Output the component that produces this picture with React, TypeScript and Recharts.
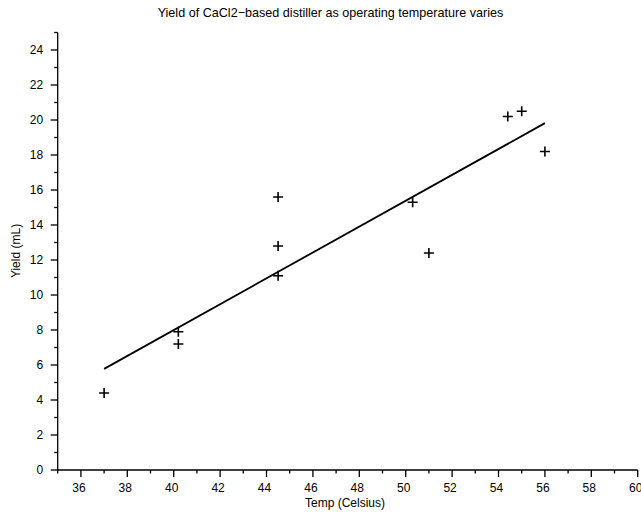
import React from 'react';
import { ScatterChart, Scatter, XAxis, YAxis } from 'recharts';

const temps = [37, 40.2, 40.2, 44.5, 44.5, 44.5, 50.3, 51, 54.4, 55, 56];
const yields = [4.4, 7.9, 7.2, 15.6, 12.8, 11.1, 15.3, 12.4, 20.2, 20.5, 18.2];
const fitTemps = [37, 56];
const fitYields = [5.78, 19.82];
const xTicks = [35, 36, 37, 38, 39, 40, 41, 42, 43, 44, 45, 46, 47, 48, 49, 50, 51, 52, 53, 54, 55, 56, 57, 58, 59, 60];
const yTicks = [0, 1, 2, 3, 4, 5, 6, 7, 8, 9, 10, 11, 12, 13, 14, 15, 16, 17, 18, 19, 20, 21, 22, 23, 24, 25];

const title = 'Yield of CaCl2\u2212based distiller as operating temperature varies';
const xTitle = 'Temp (Celsius)';
const yTitle = 'Yield (mL)';

const points = temps.map((t, i) => ({ x: t, y: yields[i] }));
const fitLine = fitTemps.map((t, i) => ({ x: t, y: fitYields[i] }));

const FONT = '"Liberation Sans", Arial, Helvetica, sans-serif';

const XTick = (props: any) => {
  const { x, y, payload } = props;
  const major = payload.value % 2 === 0;
  return (
    <g>
      <line x1={x} y1={y} x2={x} y2={y + (major ? 7 : 3.5)} stroke="#000" strokeWidth={1.3} />
      {major && (
        <text x={x - 2} y={y + 21.5} textAnchor="middle" fontSize={12} fontFamily={FONT} fill="#000">
          {payload.value}
        </text>
      )}
    </g>
  );
};

const YTick = (props: any) => {
  const { x, y, payload } = props;
  const major = payload.value % 2 === 0;
  return (
    <g>
      <line x1={x - (major ? 7 : 3.5)} y1={y} x2={x} y2={y} stroke="#000" strokeWidth={1.3} />
      {major && (
        <text x={x - 14.5} y={y} dy={4.3} textAnchor="end" fontSize={12} fontFamily={FONT} fill="#000">
          {payload.value}
        </text>
      )}
    </g>
  );
};

const Plus = (props: any) => {
  const { cx, cy } = props;
  if (cx == null || cy == null) return null;
  return (
    <g>
      <line x1={cx - 5} y1={cy} x2={cx + 5} y2={cy} stroke="#000" strokeWidth={1.6} />
      <line x1={cx} y1={cy - 5} x2={cx} y2={cy + 5} stroke="#000" strokeWidth={1.6} />
    </g>
  );
};

const NoShape = () => null;

export default function App() {
  return (
    <div style={{ position: 'absolute', left: 0, top: 0, width: 641, height: 514, background: '#fff' }}>
      <ScatterChart
        width={641}
        height={514}
        margin={{ top: 32.5, right: 3.3, bottom: 14, left: 7.7 }}
      >
        <XAxis
          type="number"
          dataKey="x"
          domain={[35, 60]}
          ticks={xTicks}
          interval={0}
          allowDataOverflow
          height={30}
          tickSize={0}
          tickMargin={0}
          tickLine={false}
          axisLine={{ stroke: '#000', strokeWidth: 1.3 }}
          tick={XTick}
        />
        <YAxis
          type="number"
          dataKey="y"
          domain={[0, 25]}
          ticks={yTicks}
          interval={0}
          allowDataOverflow
          width={50}
          tickSize={0}
          tickMargin={0}
          tickLine={false}
          axisLine={{ stroke: '#000', strokeWidth: 1.3 }}
          tick={YTick}
        />
        <Scatter data={points} shape={Plus} isAnimationActive={false} />
        <Scatter
          data={fitLine}
          line={{ stroke: '#000', strokeWidth: 1.8 }}
          shape={NoShape}
          isAnimationActive={false}
        />
      </ScatterChart>
      <svg
        width={641}
        height={514}
        style={{ position: 'absolute', left: 0, top: 0, pointerEvents: 'none' }}
      >
        <text x={330.5} y={17.3} textAnchor="middle" fontSize={12.6} fontFamily={FONT} fill="#000">
          {title}
        </text>
        <text x={345} y={506.7} textAnchor="middle" fontSize={12} fontFamily={FONT} fill="#000">
          {xTitle}
        </text>
        <text
          x={20}
          y={251}
          textAnchor="middle"
          fontSize={12}
          fontFamily={FONT}
          fill="#000"
          transform="rotate(-90 20 251)"
        >
          {yTitle}
        </text>
      </svg>
    </div>
  );
}
